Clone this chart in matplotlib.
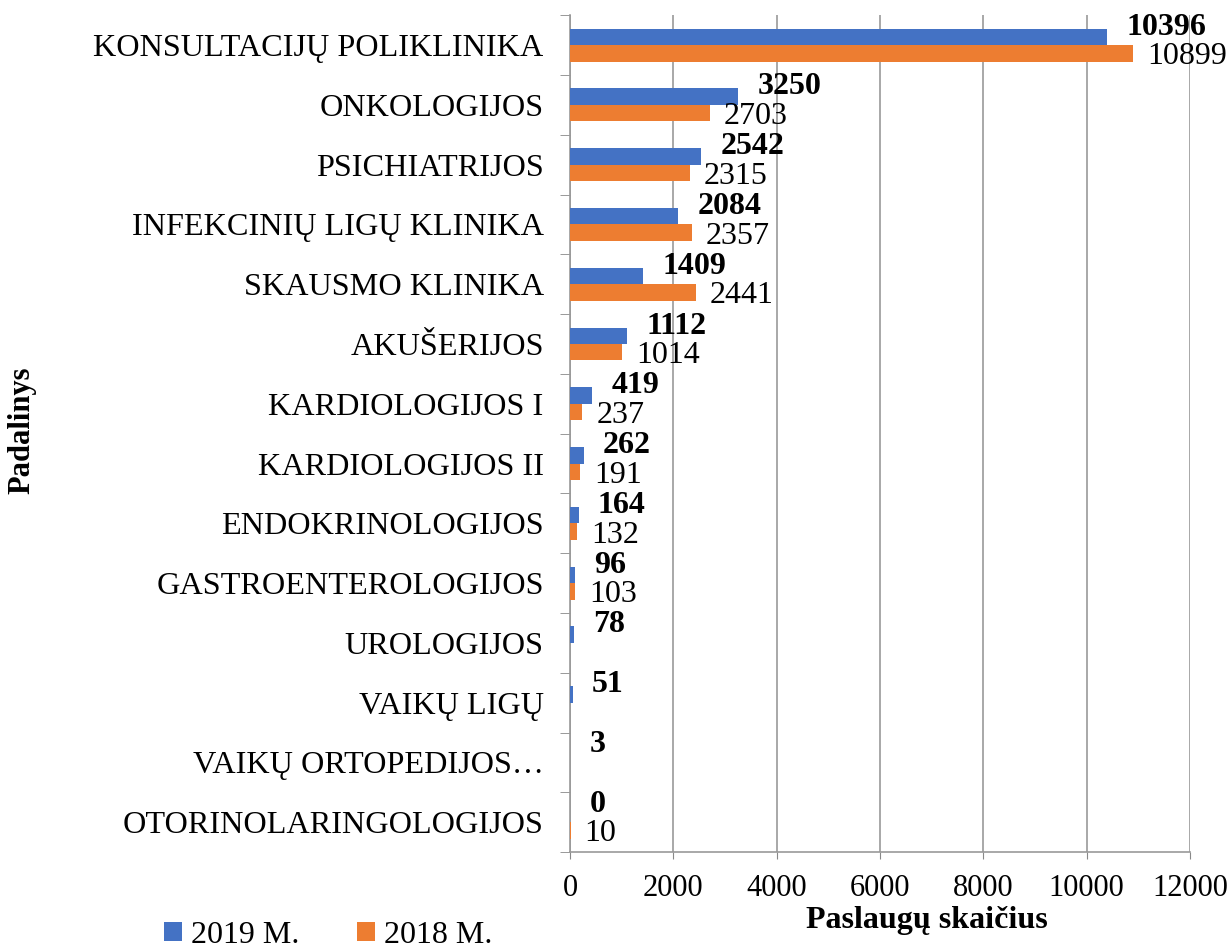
import matplotlib.pyplot as plt
import numpy as np

plt.rcParams['font.family'] = ['Liberation Serif', 'DejaVu Serif']

categories = ["KONSULTACIJŲ POLIKLINIKA", "ONKOLOGIJOS", "PSICHIATRIJOS",
              "INFEKCINIŲ LIGŲ KLINIKA", "SKAUSMO KLINIKA", "AKUŠERIJOS",
              "KARDIOLOGIJOS I", "KARDIOLOGIJOS II", "ENDOKRINOLOGIJOS",
              "GASTROENTEROLOGIJOS", "UROLOGIJOS", "VAIKŲ LIGŲ",
              "VAIKŲ ORTOPEDIJOS…", "OTORINOLARINGOLOGIJOS"]
v2019 = [10396, 3250, 2542, 2084, 1409, 1112, 419, 262, 164, 96, 78, 51, 3, 0]
v2018 = [10899, 2703, 2315, 2357, 2441, 1014, 237, 191, 132, 103, None, None, None, 10]
xticks = [0, 2000, 4000, 6000, 8000, 10000, 12000]

blue = '#4472C4'
orange = '#ED7D31'
h = 0.275

fig = plt.figure(figsize=(12.32, 9.51), dpi=100)
ax = fig.add_axes([0.4627, 0.104, 0.5032, 0.880])

y = np.arange(len(categories))
b19 = ax.barh(y - h / 2, v2019, height=h, color=blue, label='2019 M.', zorder=3)
v18 = [np.nan if v is None else v for v in v2018]
b18 = ax.barh(y + h / 2, v18, height=h, color=orange, label='2018 M.', zorder=3)

# data labels: 2019 bold, 2018 regular
for yi, v in zip(y, v2019):
    ax.annotate(str(v), xy=(v, yi - h / 2), xytext=(14, 7), textcoords='offset points',
                ha='left', va='center', fontsize=23, fontweight='bold')
for yi, v in zip(y, v2018):
    if v is None:
        continue
    ax.annotate(str(v), xy=(v, yi + h / 2), xytext=(10, -2.5), textcoords='offset points',
                ha='left', va='center', fontsize=23)

ax.set_ylim(len(categories) - 0.5, -0.5)
ax.set_xlim(0, 12000)
ax.set_xticks(xticks)
ax.set_xticklabels([str(t) for t in xticks], fontsize=22)
ax.set_yticks(y)
ax.set_yticklabels(categories, fontsize=23.2)
ax.set_yticks(np.arange(len(categories) + 1) - 0.5, minor=True)
ax.tick_params(axis='y', which='major', length=0, pad=19)
ax.tick_params(axis='y', which='minor', length=7, color='#888888', direction='out')
ax.tick_params(axis='x', length=5, color='#888888', pad=11)

ax.grid(axis='x', color='#999999', linewidth=1.2, zorder=0)
for s in ['top', 'right']:
    ax.spines[s].set_visible(False)
for s in ['left', 'bottom']:
    ax.spines[s].set_color('#999999')
    ax.spines[s].set_linewidth(1.2)

fig.text(0.018, 0.548, 'Padalinys', fontsize=22, fontweight='bold',
         rotation=90, ha='center', va='center')
fig.text(0.752, 0.024, 'Paslaugų skaičius', fontsize=23, fontweight='bold',
         ha='center', va='baseline')

fig.legend(handles=[b19, b18], loc='lower left', bbox_to_anchor=(0.110, -0.029),
           ncol=2, frameon=False, fontsize=23, handlelength=0.55, handleheight=0.55,
           handletextpad=0.3, columnspacing=1.8)

fig.savefig('out.png', dpi=100)
